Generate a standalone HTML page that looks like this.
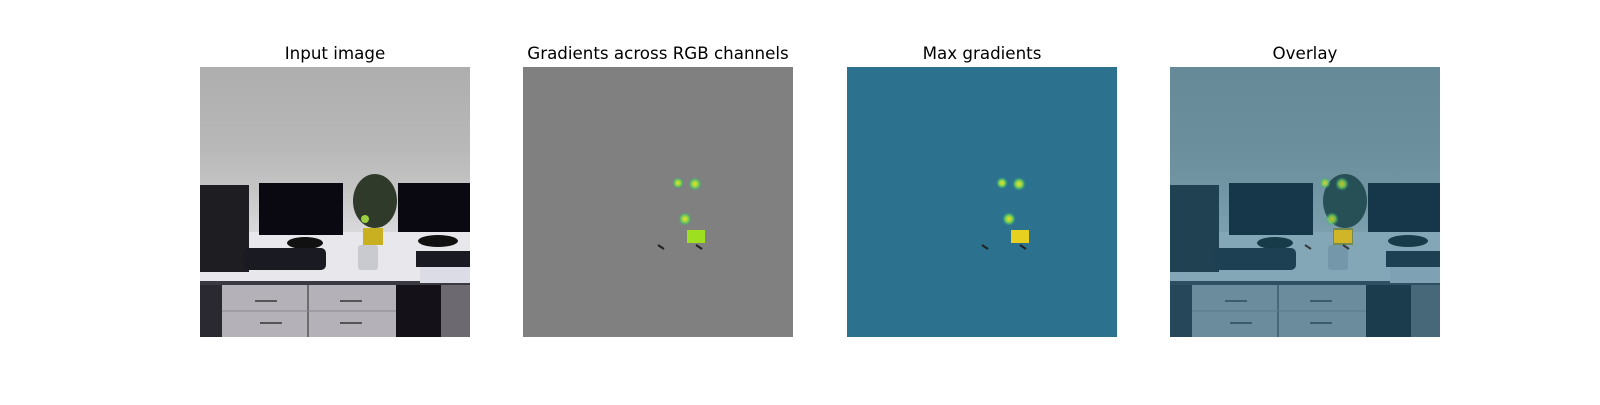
<!DOCTYPE html>
<html><head><meta charset="utf-8"><style>
body{margin:0;background:#fff;width:1600px;height:400px;overflow:hidden}
text{font-family:"DejaVu Sans","Liberation Sans",sans-serif;font-size:16.7px;fill:#000}
</style></head><body>
<svg width="1600" height="400">
<defs>
<linearGradient id="wall" x1="0" y1="0" x2="0" y2="1">
<stop offset="0" stop-color="#aeaeae"/><stop offset="0.3" stop-color="#b8b8b8"/><stop offset="0.45" stop-color="#c4c4c4"/><stop offset="0.6" stop-color="#d8d8da"/></linearGradient>
<radialGradient id="blob"><stop offset="0" stop-color="#f0e020"/><stop offset="0.5" stop-color="#7cd250"/><stop offset="1" stop-color="#21a585" stop-opacity="0"/></radialGradient>
<g id="scene">
<rect width="270" height="270" fill="url(#wall)"/>
<rect y="165" width="270" height="51" fill="#e8e8ec"/>
<rect y="214" width="270" height="4" fill="#3a3840"/>
<rect y="218" width="270" height="52" fill="#b4b2b8"/>
<rect x="0" y="218" width="22" height="52" fill="#2a2830"/>
<rect x="196" y="218" width="45" height="52" fill="#141218"/>
<rect x="241" y="218" width="29" height="52" fill="#6c6a70"/>
<line x1="108" y1="218" x2="108" y2="270" stroke="#555" stroke-width="1.5"/>
<line x1="22" y1="244" x2="196" y2="244" stroke="#8a8890" stroke-width="1"/>
<rect x="55" y="233" width="22" height="2" fill="#555"/>
<rect x="140" y="233" width="22" height="2" fill="#555"/>
<rect x="60" y="255" width="22" height="2" fill="#555"/>
<rect x="140" y="255" width="22" height="2" fill="#555"/>
<rect x="0" y="118" width="49" height="87" fill="#1e1d22"/>
<rect x="59" y="116" width="84" height="52" fill="#0a0810"/>
<ellipse cx="105" cy="176" rx="18" ry="6" fill="#111"/>
<rect x="198" y="116" width="72" height="49" fill="#0a0810"/>
<ellipse cx="238" cy="174" rx="20" ry="6" fill="#111"/>
<ellipse cx="175" cy="134" rx="22" ry="27" fill="#2f3a2a"/>
<rect x="163" y="161" width="20" height="17" fill="#c8b020"/>
<rect x="44" y="181" width="82" height="22" rx="5" fill="#1a1a22"/>
<rect x="158" y="178" width="20" height="25" rx="3" fill="#c8cad0"/>
<rect x="216" y="184" width="54" height="16" fill="#1a1a22"/>
<rect x="220" y="200" width="50" height="16" fill="#dcdce6"/>
</g>
</defs>

<text x="335" y="59" text-anchor="middle">Input image</text>
<g transform="translate(200,67)"><use href="#scene"/>
<circle cx="165" cy="152" r="4" fill="#9ad040"/></g>

<text x="658" y="59" text-anchor="middle">Gradients across RGB channels</text>
<g transform="translate(523,67)">
<rect width="270" height="270" fill="#808080"/>
<g id="g2"></g>
</g>

<text x="982" y="59" text-anchor="middle">Max gradients</text>
<g transform="translate(847,67)">
<rect width="270" height="270" fill="#2c728e"/>
<g id="g3"></g>
</g>

<text x="1305" y="59" text-anchor="middle">Overlay</text>
<g transform="translate(1170,67)">
<use href="#scene"/>
<rect width="270" height="270" fill="#1f6682" opacity="0.5"/>
<g id="g4" opacity="0.8"></g>
</g>
</svg>
<script>
const blobX=[155,172,162];
const blobY=[116,117,152];
const blobR=[6,7,7];
const sqX=164, sqY=163, sqW=18, sqH=13;
const markX=[138,176];
const markY=[180,180];
const NS='http://www.w3.org/2000/svg';
function draw(id,sq){
  const g=document.getElementById(id);
  for(let i=0;i<blobX.length;i++){
    const c=document.createElementNS(NS,'circle');
    c.setAttribute('cx',blobX[i]);c.setAttribute('cy',blobY[i]);c.setAttribute('r',blobR[i]);
    c.setAttribute('fill','url(#blob)');
    
    
    g.appendChild(c);
  }
  const r=document.createElementNS(NS,'rect');
  r.setAttribute('x',sqX);r.setAttribute('y',sqY);r.setAttribute('width',sqW);r.setAttribute('height',sqH);
  r.setAttribute('fill',sq);
  
  
  g.appendChild(r);
  for(let i=0;i<markX.length;i++){
    const l=document.createElementNS(NS,'line');
    l.setAttribute('x1',markX[i]-3);l.setAttribute('y1',markY[i]-2);l.setAttribute('x2',markX[i]+3);l.setAttribute('y2',markY[i]+2);
    l.setAttribute('stroke','#222');l.setAttribute('stroke-width','2');
    
    
    g.appendChild(l);
  }
}
draw('g2','#9ee020');
draw('g3','#e8d020');
draw('g4','#e8c020');
</script>
</body></html>
